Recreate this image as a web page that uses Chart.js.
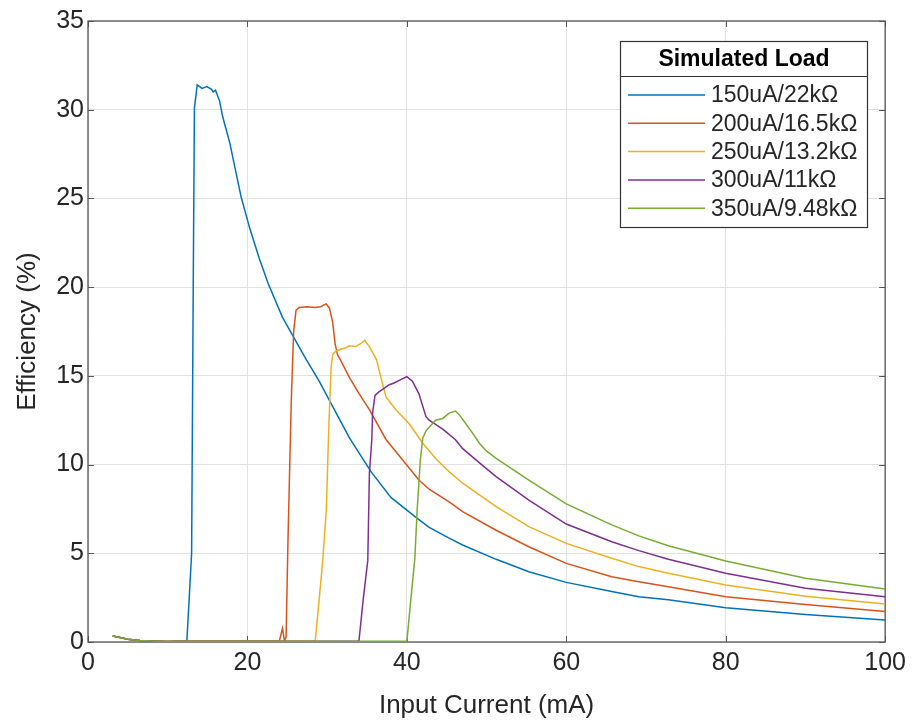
<!DOCTYPE html>
<html>
<head>
<meta charset="utf-8">
<script src="https://cdn.jsdelivr.net/npm/chart.js@4.4.1/dist/chart.umd.min.js"></script>
<style>
  html, body { margin: 0; padding: 0; background: #fff; }
  canvas { display: block; }
</style>
</head>
<body>
<canvas id="grafico" width="912" height="723"></canvas>
<script>
// ------------------------------------------------------
// Data
// ------------------------------------------------------
const legendTitle = "Simulated Load";
const labels = ["150uA/22k\u03A9", "200uA/16.5k\u03A9", "250uA/13.2k\u03A9", "300uA/11k\u03A9", "350uA/9.48k\u03A9"];
const colors = ["#0072BD", "#D95319", "#EDB120", "#7E2F8E", "#77AC30"];

const xTicks = [0, 20, 40, 60, 80, 100];
const yTicks = [0, 5, 10, 15, 20, 25, 30, 35];

// low-current tail, shared by all loads
const tailX = [3.1, 4, 5, 6.5, 8, 10, 11.5];
const tailY = [0.34, 0.25, 0.16, 0.08, 0.05, 0.03, 0.04];

const x150 = [12.4, 12.7, 13.0, 13.2, 13.35, 13.7, 14.3, 14.9, 15.5, 15.7, 16.0, 16.5, 16.9, 17.8, 18.5, 19.2, 20.3, 21.5, 22.6, 24.4, 25.9, 27.4, 29.0, 30.3, 32.8, 35.5, 38.0, 41.3, 42.8, 45.3, 47.0, 51.2, 55.3, 60, 65.7, 69.1, 72.8, 80, 90, 100];
const y150 = [0.04, 2.5, 5, 20, 30.1, 31.4, 31.2, 31.3, 31.15, 31.0, 31.1, 30.5, 29.6, 28.1, 26.6, 25.1, 23.3, 21.6, 20.2, 18.3, 17.1, 15.9, 14.7, 13.6, 11.5, 9.6, 8.15, 6.97, 6.46, 5.85, 5.47, 4.66, 3.96, 3.36, 2.85, 2.55, 2.38, 1.93, 1.55, 1.24];

const x200 = [24.0, 24.4, 24.65, 24.85, 25.1, 25.5, 25.8, 26.1, 26.5, 27.5, 28.5, 29.2, 29.6, 29.9, 30.3, 30.7, 31.0, 31.3, 32.0, 32.8, 34.0, 35.3, 37.4, 39.4, 41.5, 42.8, 45.3, 47.0, 51.2, 55.3, 60, 65.7, 69.1, 72.8, 80, 90, 100];
const y200 = [0.04, 0.77, 0.05, 0.3, 6, 13.6, 17.5, 18.7, 18.85, 18.9, 18.85, 18.9, 19.0, 19.05, 18.8, 18.0, 16.8, 16.2, 15.6, 14.9, 14.0, 13.1, 11.4, 10.3, 9.13, 8.61, 7.9, 7.35, 6.3, 5.37, 4.43, 3.68, 3.4, 3.12, 2.55, 2.12, 1.72];

const x250 = [28.5, 29.0, 29.45, 29.9, 30.2, 30.5, 30.7, 31.1, 32.4, 32.8, 33.6, 34.3, 34.7, 35.3, 36.2, 36.8, 37.4, 38.6, 40.3, 42.0, 43.7, 45.3, 47.0, 51.2, 55.3, 60, 65.7, 69.1, 72.8, 80, 90, 100];
const y250 = [0.04, 2.4, 4.6, 7.5, 12, 15.5, 16.2, 16.4, 16.6, 16.7, 16.65, 16.85, 17.0, 16.65, 15.9, 14.8, 13.8, 13.1, 12.3, 11.2, 10.3, 9.6, 8.95, 7.63, 6.5, 5.56, 4.72, 4.25, 3.87, 3.21, 2.58, 2.14];

const x300 = [33.8, 34.0, 34.5, 35.1, 35.3, 35.6, 35.7, 36.0, 36.5, 37.8, 38.4, 39.3, 40.0, 40.7, 41.5, 42.4, 42.8, 44.5, 46.1, 47.0, 49.9, 51.2, 55.3, 60, 65.7, 69.1, 72.8, 80, 90, 100];
const y300 = [0.04, 0.1, 2.3, 4.6, 9.5, 11.4, 12.9, 13.9, 14.1, 14.5, 14.6, 14.8, 14.95, 14.7, 14.0, 12.7, 12.5, 12.0, 11.4, 10.9, 9.8, 9.32, 8.0, 6.65, 5.65, 5.15, 4.66, 3.87, 3.03, 2.55];

const x350 = [40.0, 40.5, 41.0, 41.3, 41.7, 42.0, 42.4, 42.8, 43.6, 44.5, 45.3, 46.1, 46.6, 47.4, 48.2, 49.1, 49.9, 51.2, 55.3, 60, 65.7, 69.1, 72.8, 80, 90, 100];
const y350 = [0.04, 2.4, 4.7, 7.5, 10.3, 11.5, 11.9, 12.1, 12.5, 12.6, 12.9, 13.02, 12.8, 12.3, 11.8, 11.2, 10.8, 10.35, 9.13, 7.78, 6.6, 5.98, 5.43, 4.57, 3.59, 2.99];

const seriesX = [x150, x200, x250, x300, x350];
const seriesY = [y150, y200, y250, y300, y350];

// ------------------------------------------------------
// Styles
// ------------------------------------------------------
const FONTE = "'Liberation Sans', Arial, Helvetica, sans-serif";
const COR_TEXTO = "#262626";
const COR_EIXO = "#555555";

function pontos(xs, ys) {
  const tx = tailX.filter(v => v < xs[0]);
  const pts = tx.map((v, i) => ({ x: v, y: tailY[i] }));
  return pts.concat(xs.map((v, i) => ({ x: v, y: ys[i] })));
}

// box, inner ticks (before datasets) and legend (after)
const moldura = {
  id: "moldura",
  beforeDatasetsDraw(chart) {
    const { ctx, chartArea: a, scales } = chart;
    ctx.save();
    ctx.strokeStyle = COR_EIXO;
    ctx.lineWidth = 1.3;
    ctx.strokeRect(a.left, a.top, a.right - a.left, a.bottom - a.top);
    ctx.lineWidth = 1;
    ctx.beginPath();
    xTicks.forEach(v => {
      const px = Math.round(scales.x.getPixelForValue(v)) + 0.5;
      ctx.moveTo(px, a.bottom); ctx.lineTo(px, a.bottom - 6);
      ctx.moveTo(px, a.top); ctx.lineTo(px, a.top + 6);
    });
    yTicks.forEach(v => {
      const py = Math.round(scales.y.getPixelForValue(v)) + 0.5;
      ctx.moveTo(a.left, py); ctx.lineTo(a.left + 6, py);
      ctx.moveTo(a.right, py); ctx.lineTo(a.right - 6, py);
    });
    ctx.stroke();
    ctx.restore();
  },
  afterDatasetsDraw(chart) {
    const ctx = chart.ctx;
    const L = 620, T = 41, R = 867, B = 227;
    ctx.save();
    ctx.fillStyle = "#fff";
    ctx.fillRect(L, T, R - L, B - T);
    ctx.strokeStyle = "#333";
    ctx.lineWidth = 1.2;
    ctx.strokeRect(L + 0.5, T + 0.5, R - L, B - T);
    ctx.beginPath();
    ctx.moveTo(L, 76.5); ctx.lineTo(R, 76.5);
    ctx.stroke();

    ctx.fillStyle = "#000";
    ctx.textBaseline = "middle";
    ctx.textAlign = "center";
    ctx.font = "bold 23px " + FONTE;
    ctx.fillText(legendTitle, (L + R) / 2 + 0.5, 60);

    ctx.textAlign = "left";
    ctx.font = "23px " + FONTE;
    labels.forEach((txt, i) => {
      const y = 95 + i * 28.3;
      ctx.strokeStyle = colors[i];
      ctx.lineWidth = 1.5;
      ctx.beginPath();
      ctx.moveTo(628, y); ctx.lineTo(705, y);
      ctx.stroke();
      ctx.fillStyle = COR_TEXTO;
      ctx.fillText(txt, 711, y + 1);
    });
    ctx.restore();
  }
};

function criarGrafico() {
  const ctx = document.getElementById("grafico").getContext("2d");

  const datasets = labels.map((nome, i) => ({
    label: nome,
    data: pontos(seriesX[i], seriesY[i]),
    borderColor: colors[i],
    borderWidth: 1.5,
    pointRadius: 0,
    tension: 0,
    fill: false,
    order: labels.length - i
  }));

  new Chart(ctx, {
    type: "line",
    data: { datasets },
    options: {
      responsive: false,
      animation: false,
      devicePixelRatio: 1,
      layout: { padding: { left: 0, right: 25, top: 21, bottom: 0 } },
      plugins: { legend: { display: false }, tooltip: { enabled: false } },
      scales: {
        x: {
          type: "linear",
          min: 0,
          max: 100,
          afterBuildTicks: s => { s.ticks = xTicks.map(v => ({ value: v })); },
          afterFit: s => { s.height = 81; },
          ticks: { color: COR_TEXTO, font: { family: FONTE, size: 25 }, padding: 6, maxRotation: 0 },
          grid: { color: "#e2e2e2", drawTicks: false },
          border: { display: false },
          title: {
            display: true,
            text: "Input Current (mA)",
            color: COR_TEXTO,
            font: { family: FONTE, size: 26 },
            padding: { top: 0, bottom: 2 }
          }
        },
        y: {
          type: "linear",
          min: 0,
          max: 35,
          afterBuildTicks: s => { s.ticks = yTicks.map(v => ({ value: v })); },
          afterFit: s => { s.width = 88; },
          ticks: { color: COR_TEXTO, font: { family: FONTE, size: 25 }, padding: 4 },
          grid: { color: "#e2e2e2", drawTicks: false },
          border: { display: false },
          title: {
            display: true,
            text: "Efficiency (%)",
            color: COR_TEXTO,
            font: { family: FONTE, size: 26 },
            padding: { top: 12, bottom: 0 }
          }
        }
      }
    },
    plugins: [moldura]
  });
}

criarGrafico();
</script>
</body>
</html>
